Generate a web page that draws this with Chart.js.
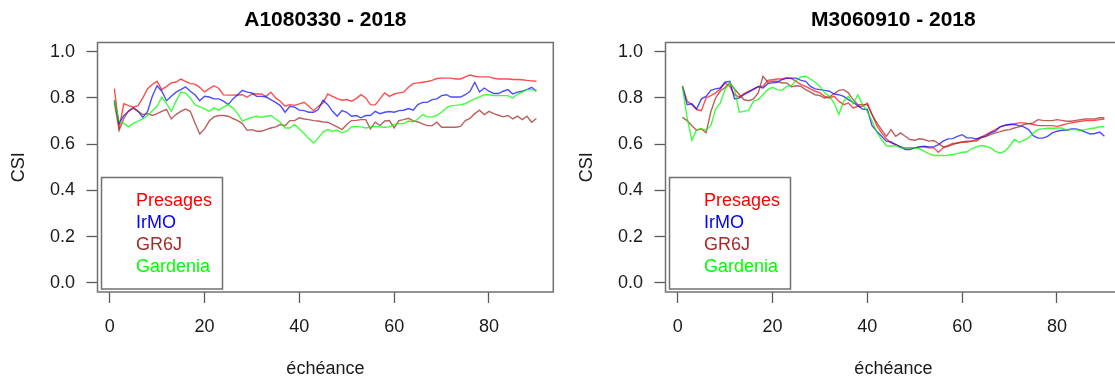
<!DOCTYPE html>
<html>
<head>
<meta charset="utf-8">
<script src="https://cdn.jsdelivr.net/npm/chart.js@4.4.0/dist/chart.umd.min.js"></script>
<style>
  html, body { margin: 0; padding: 0; background: #fff; overflow: hidden; width: 1115px; height: 380px; }
  canvas { position: absolute; top: 0; }
  #chartA { left: 0; }
  #chartM { left: 568px; }
</style>
</head>
<body>
<canvas id="chartA" width="560" height="380"></canvas>
<canvas id="chartM" width="560" height="380"></canvas>
<script>
// données (CSI par échéance)
const echeance = [1, 2, 3, 4, 5, 6, 7, 8, 9, 10, 11, 12, 13, 14, 15, 16, 17, 18, 19, 20,
  21, 22, 23, 24, 25, 26, 27, 28, 29, 30, 31, 32, 33, 34, 35, 36, 37, 38, 39, 40,
  41, 42, 43, 44, 45, 46, 47, 48, 49, 50, 51, 52, 53, 54, 55, 56, 57, 58, 59, 60,
  61, 62, 63, 64, 65, 66, 67, 68, 69, 70, 71, 72, 73, 74, 75, 76, 77, 78, 79, 80,
  81, 82, 83, 84, 85, 86, 87, 88, 89, 90];

const modeles = ['Presages', 'IrMO', 'GR6J', 'Gardenia'];
const titres = ['A1080330 - 2018', 'M3060910 - 2018'];
const xTicks = [0, 20, 40, 60, 80];
const yTicks = [0, 0.2, 0.4, 0.6, 0.8, 1.0];

// A1080330
const A_presages = [0.84, 0.67, 0.775, 0.767, 0.76, 0.767, 0.80, 0.84, 0.858, 0.872,
  0.836, 0.85, 0.865, 0.869, 0.882, 0.872, 0.862, 0.86, 0.846, 0.826,
  0.84, 0.853, 0.842, 0.813, 0.812, 0.812, 0.813, 0.814, 0.803, 0.817,
  0.817, 0.817, 0.807, 0.825, 0.80, 0.786, 0.764, 0.771, 0.768, 0.774,
  0.781, 0.764, 0.745, 0.764, 0.778, 0.817, 0.807, 0.797, 0.79, 0.793,
  0.786, 0.797, 0.814, 0.80, 0.771, 0.77, 0.796, 0.822, 0.807, 0.817,
  0.822, 0.825, 0.846, 0.862, 0.865, 0.868, 0.871, 0.876, 0.884, 0.886,
  0.886, 0.886, 0.882, 0.882, 0.891, 0.899, 0.894, 0.891, 0.891, 0.891,
  0.885, 0.882, 0.882, 0.882, 0.88, 0.88, 0.879, 0.876, 0.874, 0.872];
const A_irmo = [0.79, 0.69, 0.724, 0.742, 0.757, 0.742, 0.716, 0.742, 0.807, 0.853,
  0.829, 0.788, 0.807, 0.825, 0.836, 0.848, 0.829, 0.814, 0.788, 0.807,
  0.804, 0.796, 0.796, 0.786, 0.771, 0.796, 0.814, 0.833, 0.825, 0.822,
  0.807, 0.807, 0.804, 0.793, 0.781, 0.767, 0.738, 0.764, 0.76, 0.747,
  0.745, 0.738, 0.738, 0.75, 0.79, 0.771, 0.742, 0.721, 0.745, 0.738,
  0.721, 0.724, 0.714, 0.724, 0.724, 0.742, 0.732, 0.738, 0.741, 0.738,
  0.745, 0.747, 0.754, 0.747, 0.771, 0.781, 0.781, 0.793, 0.796, 0.81,
  0.814, 0.804, 0.804, 0.804, 0.814, 0.829, 0.868, 0.826, 0.843, 0.829,
  0.819, 0.819, 0.829, 0.836, 0.817, 0.825, 0.829, 0.836, 0.846, 0.829];
const A_gr6j = [0.78, 0.66, 0.711, 0.745, 0.757, 0.742, 0.728, 0.732, 0.724, 0.732,
  0.742, 0.75, 0.709, 0.728, 0.742, 0.752, 0.742, 0.692, 0.644, 0.666,
  0.70, 0.718, 0.724, 0.724, 0.721, 0.711, 0.702, 0.689, 0.66, 0.663,
  0.656, 0.656, 0.663, 0.67, 0.675, 0.685, 0.68, 0.702, 0.702, 0.714,
  0.709, 0.706, 0.702, 0.70, 0.696, 0.695, 0.685, 0.675, 0.663, 0.685,
  0.702, 0.703, 0.706, 0.706, 0.666, 0.695, 0.68, 0.70, 0.702, 0.67,
  0.702, 0.706, 0.712, 0.702, 0.696, 0.688, 0.68, 0.68, 0.695, 0.673,
  0.673, 0.673, 0.673, 0.677, 0.702, 0.711, 0.732, 0.747, 0.728, 0.742,
  0.732, 0.725, 0.718, 0.724, 0.709, 0.721, 0.706, 0.721, 0.695, 0.711];
const A_gardenia = [0.79, 0.70, 0.69, 0.675, 0.69, 0.70, 0.709, 0.724, 0.745, 0.764,
  0.804, 0.775, 0.742, 0.786, 0.825, 0.822, 0.80, 0.771, 0.761, 0.754,
  0.742, 0.757, 0.747, 0.76, 0.771, 0.757, 0.732, 0.70, 0.709, 0.716,
  0.721, 0.716, 0.721, 0.724, 0.709, 0.695, 0.67, 0.67, 0.685, 0.666,
  0.646, 0.624, 0.605, 0.627, 0.652, 0.663, 0.656, 0.66, 0.649, 0.656,
  0.675, 0.677, 0.675, 0.67, 0.673, 0.677, 0.675, 0.673, 0.675, 0.685,
  0.689, 0.689, 0.70, 0.696, 0.709, 0.728, 0.718, 0.718, 0.724, 0.738,
  0.757, 0.767, 0.768, 0.771, 0.775, 0.786, 0.796, 0.804, 0.814, 0.814,
  0.81, 0.81, 0.81, 0.81, 0.80, 0.817, 0.825, 0.836, 0.836, 0.832];

// M3060910
const M_presages = [0.853, 0.786, 0.771, 0.75, 0.745, 0.80, 0.81, 0.822, 0.839, 0.865,
  0.85, 0.814, 0.804, 0.819, 0.829, 0.836, 0.85, 0.85, 0.876, 0.879,
  0.882, 0.882, 0.886, 0.884, 0.872, 0.858, 0.85, 0.839, 0.829, 0.822,
  0.807, 0.80, 0.807, 0.786, 0.771, 0.778, 0.757, 0.764, 0.764, 0.778,
  0.728, 0.68, 0.649, 0.623, 0.605, 0.598, 0.588, 0.584, 0.584, 0.584,
  0.588, 0.588, 0.584, 0.584, 0.565, 0.584, 0.594, 0.603, 0.605, 0.608,
  0.608, 0.613, 0.62, 0.63, 0.641, 0.652, 0.663, 0.675, 0.68, 0.685,
  0.688, 0.692, 0.692, 0.689, 0.685, 0.68, 0.68, 0.68, 0.68, 0.677,
  0.682, 0.688, 0.692, 0.696, 0.699, 0.702, 0.702, 0.703, 0.706, 0.709];
const M_irmo = [0.85, 0.771, 0.775, 0.752, 0.796, 0.807, 0.833, 0.839, 0.843, 0.868,
  0.872, 0.796, 0.80, 0.814, 0.825, 0.839, 0.848, 0.843, 0.862, 0.865,
  0.868, 0.879, 0.886, 0.886, 0.886, 0.876, 0.872, 0.85, 0.839, 0.836,
  0.833, 0.829, 0.817, 0.814, 0.807, 0.793, 0.781, 0.767, 0.752, 0.75,
  0.68, 0.656, 0.634, 0.613, 0.61, 0.598, 0.588, 0.577, 0.577, 0.584,
  0.588, 0.591, 0.588, 0.588, 0.598, 0.613, 0.623, 0.624, 0.634, 0.641,
  0.627, 0.627, 0.623, 0.63, 0.634, 0.649, 0.656, 0.675, 0.682, 0.685,
  0.685, 0.68, 0.675, 0.663, 0.637, 0.626, 0.626, 0.634, 0.649, 0.656,
  0.66, 0.66, 0.666, 0.666, 0.66, 0.652, 0.644, 0.646, 0.652, 0.634];
const M_gr6j = [0.716, 0.702, 0.68, 0.66, 0.666, 0.649, 0.74, 0.80, 0.83, 0.845,
  0.865, 0.839, 0.815, 0.792, 0.788, 0.796, 0.822, 0.894, 0.868, 0.872,
  0.872, 0.865, 0.865, 0.848, 0.853, 0.85, 0.836, 0.825, 0.814, 0.81,
  0.80, 0.804, 0.819, 0.833, 0.836, 0.822, 0.793, 0.771, 0.771, 0.771,
  0.728, 0.692, 0.663, 0.634, 0.663, 0.634, 0.649, 0.634, 0.62, 0.617,
  0.623, 0.62, 0.613, 0.616, 0.603, 0.588, 0.591, 0.598, 0.605, 0.61,
  0.613, 0.613, 0.613, 0.627, 0.634, 0.641, 0.649, 0.654, 0.66, 0.663,
  0.67, 0.675, 0.685, 0.689, 0.692, 0.706, 0.703, 0.702, 0.702, 0.706,
  0.703, 0.699, 0.699, 0.703, 0.706, 0.709, 0.709, 0.709, 0.714, 0.714];
const M_gardenia = [0.85, 0.714, 0.617, 0.663, 0.666, 0.66, 0.68, 0.752, 0.778, 0.836,
  0.865, 0.839, 0.738, 0.742, 0.747, 0.786, 0.793, 0.814, 0.836, 0.846,
  0.836, 0.833, 0.85, 0.853, 0.876, 0.891, 0.894, 0.882, 0.868, 0.85,
  0.822, 0.807, 0.778, 0.728, 0.786, 0.807, 0.775, 0.814, 0.771, 0.742,
  0.70, 0.652, 0.62, 0.594, 0.591, 0.594, 0.584, 0.584, 0.584, 0.584,
  0.58, 0.569, 0.559, 0.551, 0.551, 0.551, 0.552, 0.555, 0.559, 0.565,
  0.566, 0.58, 0.588, 0.594, 0.591, 0.584, 0.569, 0.562, 0.569, 0.591,
  0.62, 0.608, 0.616, 0.627, 0.649, 0.663, 0.666, 0.669, 0.669, 0.67,
  0.67, 0.66, 0.663, 0.663, 0.66, 0.663, 0.668, 0.67, 0.675, 0.675];

const couleurs = ['#ff0000', '#0000ff', '#a52a2a', '#00ff00'];
const traits = ['rgba(255, 0, 0, 0.7)', 'rgba(0, 0, 255, 0.7)', 'rgba(165, 42, 42, 0.75)', 'rgba(0, 255, 0, 0.75)'];
const police = '"Liberation Sans", Arial, Helvetica, sans-serif';

// cadre du graphique + légende façon R
const cadreLegende = {
  id: 'cadreLegende',
  afterDatasetsDraw: function (chart) {
    const c = chart.ctx;
    const a = chart.chartArea;
    c.save();
    c.strokeStyle = '#707070';
    c.lineWidth = 1.5;
    c.strokeRect(a.left, a.top, a.right - a.left, a.bottom - a.top);

    const lx = a.left + 4, ly = a.top + 135;
    c.strokeRect(lx, ly, 121, 111.5);
    c.font = '18px ' + police;
    c.textBaseline = 'middle';
    c.textAlign = 'left';
    chart.data.datasets.forEach(function (ds, i) {
      c.fillStyle = couleurs[i];
      c.fillText(ds.label, lx + 34.5, ly + 23.5 + i * 22);
    });
    c.restore();
  }
};

function panneau(id, titre, series) {
  const ctx = document.getElementById(id);
  return new Chart(ctx, {
    type: 'line',
    data: {
      datasets: series.map(function (vals, i) {
        return {
          label: modeles[i],
          data: echeance.map(function (x, k) { return { x: x, y: vals[k] }; }),
          borderColor: traits[i],
          borderWidth: 1.4,
          pointRadius: 0,
          tension: 0,
          fill: false,
          order: 4 - i
        };
      })
    },
    options: {
      responsive: false,
      animation: false,
      layout: { padding: { left: 0, right: 6.7, top: 0, bottom: 0 } },
      plugins: {
        legend: { display: false },
        tooltip: { enabled: false },
        title: {
          display: true,
          text: titre,
          fullSize: false,
          color: '#000',
          font: { family: police, size: 21, weight: 'bold' },
          padding: { top: 8, bottom: 9.3 }
        }
      },
      scales: {
        x: {
          type: 'linear',
          min: -2.56,
          max: 93.56,
          afterBuildTicks: function (s) { s.ticks = xTicks.map(function (v) { return { value: v }; }); },
          afterFit: function (s) { s.height = 88; },
          border: { display: false },
          grid: { drawOnChartArea: false, drawTicks: true, tickLength: 11, tickColor: '#5a5a5a', tickWidth: 1.3 },
          ticks: { padding: 13, color: '#1a1a1a', autoSkip: false, maxRotation: 0, font: { family: police, size: 18 } },
          title: { display: true, text: 'échéance', color: '#1a1a1a', font: { family: police, size: 18 }, padding: 0 }
        },
        y: {
          min: -0.04,
          max: 1.04,
          afterBuildTicks: function (s) { s.ticks = yTicks.map(function (v) { return { value: v }; }); },
          afterFit: function (s) { s.width = 97.5; },
          border: { display: false },
          grid: { drawOnChartArea: false, drawTicks: true, tickLength: 11, tickColor: '#5a5a5a', tickWidth: 1.3 },
          ticks: {
            padding: 11.5,
            color: '#1a1a1a',
            font: { family: police, size: 18 },
            callback: function (v) { return Number(v).toFixed(1); }
          },
          title: { display: true, text: 'CSI', color: '#1a1a1a', font: { family: police, size: 18 }, padding: { top: 8.7, bottom: 0 } }
        }
      }
    },
    plugins: [cadreLegende]
  });
}

const chartA = panneau('chartA', titres[0], [A_presages, A_irmo, A_gr6j, A_gardenia]);
const chartM = panneau('chartM', titres[1], [M_presages, M_irmo, M_gr6j, M_gardenia]);
</script>
</body>
</html>
